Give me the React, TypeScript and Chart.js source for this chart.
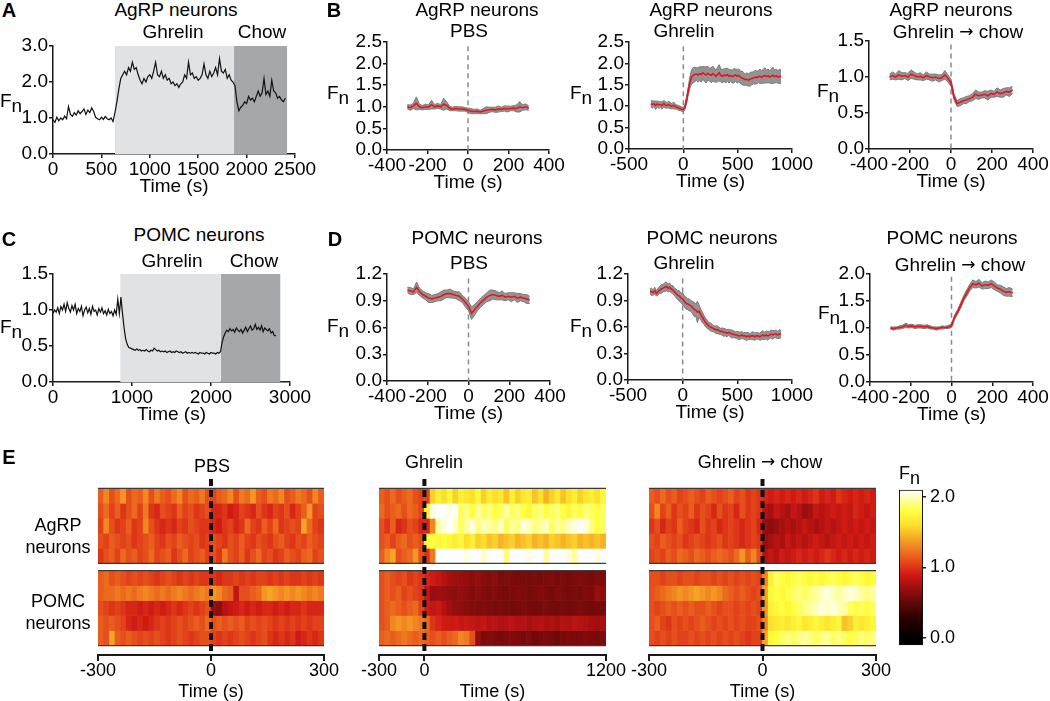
import React, { useEffect, useRef } from "react";
import { Chart, registerables } from "chart.js";
Chart.register(...registerables);

const FONT = "'Liberation Sans', Arial, Helvetica, sans-serif";
Chart.defaults.font.family = FONT;
Chart.defaults.font.size = 19;
Chart.defaults.color = "#000";

// ---------------- DATA ----------------
// Panel A: AgRP neurons, single trace, t = 0..2400 s every 20 s
const A_START = 0;
const A_STEP = 20;
const A_TRACE = [
  0.95, 0.88, 1.02, 0.92, 1.0, 0.95, 1.05, 0.98, 1.32, 1.1,
  1.05, 1.15, 1.08, 1.2, 1.12, 1.18, 1.25, 1.1, 1.22, 1.15,
  1.28, 1.18, 1.02, 0.98, 0.95, 1.02, 0.96, 1.04, 0.98, 0.95,
  1.0, 0.9, 1.15, 1.45, 1.8, 2.1, 2.2, 2.3, 2.2, 2.4,
  2.3, 2.55, 2.35, 2.4, 2.2, 2.05, 1.95, 2.1, 2.0, 2.15,
  2.2, 2.1, 2.3, 2.55, 2.2, 2.15, 2.3, 2.1, 2.2, 2.05,
  2.1, 1.95, 2.0, 1.9, 1.95, 1.85, 1.95, 2.0, 2.2, 2.1,
  2.55, 2.2, 2.25, 2.1, 2.15, 2.05, 2.1, 2.2, 2.5, 2.2,
  2.1, 2.3, 2.15, 2.25, 2.4, 2.2, 2.65, 2.3, 2.25, 2.35,
  2.1, 2.2, 2.05, 2.0, 1.9, 1.45, 1.2, 1.3, 1.35, 1.45,
  1.4, 1.6, 1.5, 1.55, 1.45, 1.6, 1.75, 1.6, 1.7, 2.1,
  1.65, 1.75, 1.6, 2.05, 1.75, 1.7, 1.55, 1.6, 1.5, 1.45,
  1.55,
];
const A_GHRELIN_WINDOW = [640, 1870];
const A_CHOW_WINDOW = [1870, 2420];
const A_XTICKS = [0, 500, 1000, 1500, 2000, 2500];
const A_YTICKS = [0, 1, 2, 3];

// Panel C: POMC neurons, single trace, t = 0..2820 s every 20 s
const C_START = 0;
const C_STEP = 20;
const C_TRACE = [
  0.95, 1.0, 0.97, 1.03, 0.95, 1.05, 1.0, 1.08, 0.98, 1.1,
  1.02, 0.97, 1.06, 1.0, 1.08, 0.95, 1.02, 0.98, 1.05, 0.92,
  1.0, 1.04, 0.96, 1.02, 0.94, 1.05, 0.98, 1.0, 0.93, 1.02,
  0.97, 1.03, 0.95, 0.99, 0.93, 1.01, 0.95, 0.98, 0.92, 1.0,
  0.94, 1.15, 0.95, 1.18, 0.95, 0.75, 0.6, 0.52, 0.48, 0.47,
  0.46, 0.45, 0.44, 0.46, 0.44, 0.45, 0.43, 0.44, 0.43, 0.45,
  0.43, 0.42, 0.44, 0.43, 0.47, 0.45, 0.43, 0.44, 0.42, 0.43,
  0.42, 0.43, 0.41, 0.42, 0.43, 0.41, 0.42, 0.41, 0.43, 0.42,
  0.41, 0.42, 0.4, 0.41, 0.42, 0.4, 0.41, 0.4, 0.41, 0.4,
  0.41, 0.4, 0.39, 0.41, 0.4, 0.4, 0.39, 0.41, 0.4, 0.39,
  0.41, 0.4, 0.4, 0.39, 0.41, 0.4, 0.42, 0.55, 0.63, 0.68,
  0.72, 0.7, 0.74, 0.71, 0.73, 0.69, 0.75, 0.72, 0.7, 0.73,
  0.68, 0.72, 0.76, 0.7, 0.74, 0.78, 0.72, 0.74, 0.8, 0.73,
  0.76, 0.72, 0.78, 0.7, 0.75, 0.73, 0.71, 0.74, 0.68, 0.7,
  0.65, 0.64,
];
const C_GHRELIN_WINDOW = [850, 2125];
const C_CHOW_WINDOW = [2125, 2880];
const C_XTICKS = [0, 1000, 2000, 3000];
const C_YTICKS = [0, 0.5, 1, 1.5];

// Panels B / D: mean ± SEM, 15 s bins
const BD_STEP = 15;
const B1_MEAN = [
  1.0, 0.98, 1.02, 1.08, 1.0, 0.98, 1.0, 0.99, 1.05, 1.0,
  1.02, 1.0, 1.06, 1.03, 0.96, 0.95, 0.96, 0.95, 0.95, 0.94,
  0.92, 0.9, 0.89, 0.9, 0.88, 0.9, 0.92, 0.93, 0.94, 0.93,
  0.95, 0.94, 0.96, 0.95, 0.96, 0.97, 0.96, 1.0, 0.98, 1.0,
  0.97,
];
const B1_SEM = [
  0.05, 0.06, 0.06, 0.15, 0.06, 0.05, 0.06, 0.05, 0.1, 0.05,
  0.06, 0.05, 0.14, 0.08, 0.05, 0.04, 0.05, 0.05, 0.05, 0.04,
  0.05, 0.06, 0.05, 0.05, 0.04, 0.06, 0.08, 0.06, 0.05, 0.06,
  0.07, 0.05, 0.06, 0.07, 0.05, 0.06, 0.08, 0.12, 0.06, 0.07,
  0.05,
];
const B2_MEAN = [
  1.05, 1.04, 1.06, 1.02, 1.05, 1.03, 1.04, 1.02, 1.06, 1.03,
  1.02, 1.04, 1.01, 1.0, 1.02, 0.99, 0.98, 0.96, 0.95, 0.93,
  0.92, 0.98, 1.15, 1.35, 1.55, 1.68, 1.72, 1.74, 1.75, 1.73,
  1.76, 1.74, 1.78, 1.75, 1.73, 1.77, 1.74, 1.72, 1.76, 1.73,
  1.7, 1.74, 1.78, 1.72, 1.7, 1.73, 1.71, 1.74, 1.7, 1.72,
  1.69, 1.71, 1.73, 1.7, 1.72, 1.68, 1.66, 1.64, 1.62, 1.63,
  1.61, 1.63, 1.65, 1.66, 1.68, 1.67, 1.69, 1.7, 1.68, 1.7,
  1.72, 1.69, 1.71, 1.68, 1.7, 1.72, 1.69, 1.71, 1.68, 1.7,
  1.69,
];
const B2_SEM = [
  0.07, 0.09, 0.06, 0.1, 0.07, 0.08, 0.06, 0.09, 0.07, 0.08,
  0.06, 0.08, 0.07, 0.06, 0.08, 0.06, 0.05, 0.06, 0.05, 0.05,
  0.05, 0.06, 0.08, 0.1, 0.13, 0.16, 0.18, 0.17, 0.15, 0.17,
  0.16, 0.18, 0.15, 0.17, 0.19, 0.16, 0.15, 0.17, 0.18, 0.16,
  0.14, 0.17, 0.19, 0.15, 0.16, 0.14, 0.17, 0.15, 0.16, 0.14,
  0.15, 0.17, 0.14, 0.16, 0.15, 0.14, 0.16, 0.15, 0.13, 0.15,
  0.14, 0.16, 0.15, 0.14, 0.16, 0.15, 0.14, 0.17, 0.15, 0.16,
  0.18, 0.15, 0.16, 0.14, 0.17, 0.19, 0.15, 0.16, 0.14, 0.17,
  0.15,
];
const B3_MEAN = [
  1.0, 1.02, 1.0, 1.03, 1.01, 1.02, 1.0, 1.04, 1.02, 1.0,
  1.01, 0.99, 1.02, 1.0, 0.99, 1.0, 0.98, 0.99, 1.03, 0.98,
  0.92, 0.72, 0.63, 0.65, 0.67, 0.68, 0.7, 0.72, 0.76, 0.74,
  0.75, 0.76, 0.74, 0.77, 0.76, 0.79, 0.77, 0.78, 0.8, 0.79,
  0.82,
];
const B3_SEM = [
  0.04, 0.05, 0.04, 0.06, 0.05, 0.04, 0.05, 0.06, 0.05, 0.04,
  0.05, 0.04, 0.05, 0.04, 0.05, 0.04, 0.05, 0.04, 0.06, 0.05,
  0.05, 0.04, 0.04, 0.05, 0.04, 0.05, 0.04, 0.05, 0.06, 0.05,
  0.04, 0.05, 0.06, 0.05, 0.04, 0.06, 0.05, 0.06, 0.05, 0.06,
  0.05,
];
const D1_MEAN = [
  1.02, 1.01, 1.0, 1.05, 1.0, 0.97, 0.95, 0.93, 0.92, 0.93,
  0.94, 0.95, 0.97, 0.98, 0.98, 0.97, 0.96, 0.95, 0.92, 0.88,
  0.84, 0.76, 0.8, 0.84, 0.88, 0.91, 0.94, 0.96, 0.97, 0.96,
  0.95, 0.96, 0.94, 0.95, 0.94, 0.95, 0.93, 0.94, 0.93, 0.92,
  0.91,
];
const D1_SEM = [
  0.03, 0.04, 0.03, 0.06, 0.04, 0.04, 0.04, 0.05, 0.04, 0.04,
  0.04, 0.05, 0.05, 0.04, 0.05, 0.04, 0.04, 0.05, 0.04, 0.05,
  0.05, 0.07, 0.06, 0.05, 0.05, 0.05, 0.05, 0.06, 0.05, 0.05,
  0.04, 0.05, 0.04, 0.04, 0.05, 0.04, 0.05, 0.04, 0.04, 0.05,
  0.04,
];
const D2_MEAN = [
  1.0, 1.0, 0.99, 1.01, 0.98, 1.0, 1.02, 1.03, 1.04, 1.05,
  1.06, 1.04, 1.05, 1.03, 1.02, 1.0, 0.98, 0.96, 0.95, 0.93,
  0.92, 0.89, 0.87, 0.86, 0.85, 0.84, 0.82, 0.8, 0.79, 0.77,
  0.78, 0.74, 0.71, 0.68, 0.65, 0.63, 0.61, 0.6, 0.59, 0.58,
  0.57, 0.57, 0.56, 0.55, 0.55, 0.54, 0.54, 0.53, 0.54, 0.53,
  0.52, 0.52, 0.51, 0.51, 0.5, 0.5, 0.51, 0.5, 0.5, 0.49,
  0.5, 0.49, 0.5, 0.5, 0.49, 0.5, 0.5, 0.49, 0.5, 0.51,
  0.5, 0.51, 0.5, 0.51, 0.52, 0.51, 0.52, 0.52, 0.51, 0.52,
  0.52,
];
const D2_SEM = [
  0.03, 0.04, 0.03, 0.04, 0.03, 0.04, 0.04, 0.05, 0.04, 0.05,
  0.05, 0.04, 0.05, 0.04, 0.05, 0.04, 0.05, 0.05, 0.06, 0.05,
  0.07, 0.06, 0.07, 0.06, 0.07, 0.06, 0.07, 0.08, 0.07, 0.12,
  0.07, 0.06, 0.06, 0.05, 0.05, 0.045, 0.04, 0.045, 0.04, 0.035,
  0.04, 0.045, 0.04, 0.035, 0.04, 0.045, 0.04, 0.04, 0.035, 0.04,
  0.045, 0.04, 0.035, 0.04, 0.045, 0.04, 0.04, 0.035, 0.04, 0.045,
  0.04, 0.035, 0.04, 0.045, 0.04, 0.04, 0.035, 0.04, 0.045, 0.05,
  0.04, 0.045, 0.05, 0.04, 0.045, 0.05, 0.04, 0.045, 0.04, 0.05,
  0.04,
];
const D3_MEAN = [
  1.0, 0.99, 1.0, 1.01, 1.02, 1.05, 1.03, 1.04, 1.02, 1.03,
  1.03, 1.02, 1.03, 1.01, 1.0, 0.99, 1.0, 1.01, 1.01, 1.02,
  1.04, 1.2, 1.3, 1.42, 1.55, 1.65, 1.75, 1.82, 1.8, 1.83,
  1.78, 1.8, 1.79, 1.82, 1.78, 1.74, 1.72, 1.68, 1.66, 1.67,
  1.65,
];
const D3_SEM = [
  0.02, 0.03, 0.02, 0.03, 0.03, 0.04, 0.03, 0.03, 0.03, 0.03,
  0.03, 0.03, 0.03, 0.03, 0.02, 0.03, 0.02, 0.03, 0.02, 0.03,
  0.03, 0.04, 0.04, 0.05, 0.05, 0.06, 0.06, 0.07, 0.06, 0.07,
  0.06, 0.07, 0.06, 0.07, 0.07, 0.06, 0.07, 0.08, 0.07, 0.08,
  0.07,
];
const BD_START = -300;
const PM400_XTICKS = [-400, -200, 0, 200, 400];
const M500_XTICKS = [-500, 0, 500, 1000];
const B_YTICKS = [0, 0.5, 1, 1.5, 2, 2.5];
const B3_YTICKS = [0, 0.5, 1, 1.5];
const D_YTICKS = [0, 0.3, 0.6, 0.9, 1.2];
const D3_YTICKS = [0, 0.5, 1, 1.5, 2];

// Panel E heatmaps (Fn per time bin; 5 AgRP + 5 POMC mice)
const E1_AGRP = [
  [1.15,1.3,1.1,1.2,1.35,1.1,1.2,1.15,1.3,1.1,1.25,1.15,1.1,1.2,1.3,1.1,1.2,1.15,1.25,1.1,1.05,1.15,1.2,1.3,1.1,1.25,1.2,1.35,1.15,1.1,1.25,1.2,1.3,1.1,1.15,1.25,1.2,1.1,1.3,1.15],
  [1.1,1.2,1.05,1.15,1.0,1.1,1.2,1.05,1.25,1.0,0.95,1.1,1.05,1.0,1.15,1.05,1.1,1.0,1.05,1.1,0.95,0.95,1.0,0.9,0.95,1.05,1.0,0.95,1.1,1.0,0.95,1.05,1.0,1.1,0.95,1.05,1.15,1.35,1.05,1.1],
  [1.05,1.3,1.1,1.0,1.05,1.15,1.0,1.05,1.3,1.1,1.0,0.95,1.0,0.95,1.05,1.0,1.1,1.05,1.0,1.0,0.95,0.9,1.0,1.05,0.95,1.0,1.2,1.05,1.0,1.15,1.05,1.2,1.0,1.05,1.1,1.05,1.4,1.2,1.05,1.0],
  [1.1,1.05,1.15,1.1,1.05,1.1,1.0,1.05,1.1,1.15,1.05,1.0,1.1,1.05,1.15,1.1,1.05,1.1,1.0,1.05,1.1,1.05,1.0,1.1,1.05,1.15,1.05,1.0,1.1,1.05,1.0,1.1,1.15,1.05,1.0,1.1,1.05,1.15,1.1,1.05],
  [1.0,1.1,1.15,1.05,1.2,1.1,1.15,1.05,1.1,1.2,1.05,1.1,1.15,1.0,1.1,1.2,1.05,1.1,1.15,1.05,1.1,1.0,1.25,1.1,1.05,1.15,1.0,1.1,1.2,1.05,1.1,1.0,1.05,1.15,1.1,1.05,1.15,1.2,1.05,1.1],
];
const E1_POMC = [
  [1.15,1.2,1.1,1.15,1.1,1.05,1.1,1.05,1.1,1.05,1.0,1.05,1.1,1.05,1.0,1.05,1.0,1.05,1.0,1.0,1.0,0.95,1.0,1.0,1.05,1.0,1.05,1.0,1.05,1.05,1.0,1.05,1.0,1.05,1.0,1.0,1.05,1.0,1.05,1.0],
  [1.15,1.2,1.2,1.25,1.2,1.25,1.2,1.25,1.3,1.25,1.2,1.25,1.2,1.25,1.3,1.25,1.2,1.25,1.3,1.25,1.35,1.3,1.2,1.15,0.85,1.1,1.1,1.15,1.2,1.35,1.4,1.35,1.3,1.35,1.3,1.35,1.3,1.25,1.3,1.25],
  [1.1,1.05,1.0,1.05,1.0,0.95,0.95,0.9,0.95,0.9,0.95,0.9,0.95,1.0,0.95,1.0,1.05,1.0,1.05,1.1,0.7,0.65,0.8,0.85,0.9,0.95,0.9,0.95,0.9,0.95,0.95,0.9,0.95,0.9,0.95,0.95,1.0,0.95,0.95,0.95],
  [1.15,1.1,1.15,1.1,1.05,0.95,0.9,0.95,0.9,0.95,1.0,1.05,1.0,1.05,1.1,1.05,1.1,1.15,1.1,1.2,1.1,1.15,1.1,1.15,1.1,1.15,1.05,1.1,1.05,1.1,1.05,1.0,1.05,1.0,1.05,1.0,1.05,1.0,1.05,1.05],
  [1.15,1.1,1.4,1.15,1.1,1.15,1.1,1.05,1.1,1.05,1.1,1.05,1.0,1.05,1.1,1.05,1.0,1.05,1.1,1.1,1.05,1.0,1.05,1.0,1.05,1.1,1.05,1.0,1.05,1.1,1.0,0.95,1.0,0.95,1.0,0.9,0.95,1.0,0.95,1.0],
];
const E2_AGRP = [
  [1.15,1.1,1.2,1.1,1.15,1.2,1.1,1.05,1.05,1.55,1.7,1.6,1.75,1.55,1.7,1.65,1.6,1.75,1.55,1.7,1.6,1.65,1.5,1.7,1.55,1.65,1.7,1.5,1.6,1.45,1.55,1.65,1.5,1.6,1.7,1.55,1.65,1.7,1.6,1.75],
  [1.2,1.1,1.15,1.2,1.1,1.2,1.15,1.05,1.7,2.05,2.1,2.1,2.05,2.1,1.85,1.9,1.8,1.95,1.85,1.9,1.8,1.85,1.95,1.85,1.9,1.8,1.75,1.85,1.9,1.8,1.85,1.9,1.8,1.75,1.85,1.8,1.9,1.85,1.8,1.85],
  [1.1,1.0,1.15,0.95,1.0,1.1,1.05,0.95,0.95,1.3,1.95,2.05,2.1,2.0,1.85,1.95,2.05,1.9,2.0,1.95,1.9,2.0,1.85,1.95,1.9,2.05,2.0,1.9,1.95,2.0,1.85,1.95,1.9,2.0,2.05,2.1,2.05,1.9,1.8,1.85],
  [1.1,1.15,1.05,1.15,1.2,1.1,1.15,1.1,1.75,1.8,1.75,1.8,1.75,1.7,1.75,1.6,1.7,1.55,1.6,1.5,1.55,1.45,1.5,1.55,1.45,1.5,1.55,1.45,1.5,1.45,1.55,1.5,1.45,1.5,1.55,1.45,1.5,1.45,1.5,1.45],
  [1.15,1.3,1.4,1.1,1.15,1.2,1.35,1.1,1.0,1.25,2.1,2.15,2.1,2.15,2.1,2.05,2.15,2.1,2.0,2.1,2.15,2.1,1.9,2.1,2.15,2.1,2.05,2.15,2.1,1.95,2.1,2.15,2.1,2.05,1.95,2.1,2.15,2.1,2.05,2.15],
];
const E2_POMC = [
  [1.1,1.15,1.1,1.05,1.1,1.0,1.05,1.0,0.95,0.9,0.85,0.8,0.75,0.72,0.7,0.68,0.65,0.68,0.65,0.62,0.65,0.6,0.62,0.6,0.58,0.6,0.58,0.6,0.58,0.6,0.62,0.58,0.6,0.58,0.6,0.62,0.6,0.58,0.62,0.6],
  [1.1,1.15,1.1,1.15,1.05,1.1,1.05,1.0,0.85,0.7,0.72,0.7,0.68,0.65,0.67,0.65,0.62,0.64,0.62,0.6,0.62,0.6,0.58,0.6,0.62,0.6,0.58,0.6,0.62,0.6,0.58,0.62,0.6,0.58,0.6,0.58,0.62,0.6,0.7,0.65],
  [1.1,1.15,1.2,1.15,1.1,1.15,1.2,1.05,0.9,0.85,0.88,0.8,0.72,0.68,0.66,0.64,0.62,0.6,0.62,0.6,0.58,0.6,0.58,0.57,0.58,0.6,0.58,0.57,0.58,0.6,0.58,0.57,0.58,0.57,0.58,0.6,0.58,0.57,0.58,0.57],
  [1.1,1.15,1.3,1.35,1.3,1.35,1.3,1.25,1.2,1.0,0.95,0.9,0.88,0.9,0.85,0.88,0.85,0.82,0.85,0.8,0.82,0.78,0.8,0.82,0.78,0.8,0.75,0.78,0.8,0.76,0.78,0.75,0.8,0.78,0.82,0.8,0.78,0.75,0.72,0.75],
  [1.15,1.2,1.15,1.2,1.25,1.2,1.15,1.2,1.15,1.1,1.15,1.1,1.15,1.2,1.3,1.25,1.1,0.68,0.6,0.62,0.6,0.58,0.6,0.62,0.6,0.58,0.6,0.55,0.58,0.6,0.58,0.55,0.58,0.6,0.58,0.6,0.62,0.6,0.58,0.6],
];
const E3_AGRP = [
  [1.15,1.1,1.2,1.1,1.15,1.05,1.1,1.15,1.1,1.05,1.15,1.1,1.05,1.1,1.15,1.05,1.1,1.0,1.05,1.0,0.95,0.9,0.95,0.9,0.95,0.9,0.95,0.9,0.95,1.0,0.9,0.95,0.9,1.0,0.95,0.9,0.95,0.9,0.95,0.9],
  [1.1,1.3,1.05,1.15,1.0,1.1,1.05,1.15,1.0,1.1,1.05,0.95,1.1,1.0,1.05,0.95,1.1,1.0,1.05,1.0,0.8,0.75,0.85,0.8,0.75,0.85,0.8,0.7,0.75,0.85,0.8,0.85,0.9,0.85,0.9,0.85,0.95,0.9,0.85,0.9],
  [1.0,1.1,0.95,1.05,1.0,1.15,1.05,1.0,0.95,1.1,1.0,1.05,0.95,1.0,1.05,1.0,0.95,1.0,1.05,0.95,0.7,0.65,0.7,0.75,0.8,0.75,0.8,0.85,0.8,0.75,0.8,0.85,0.8,0.85,0.9,0.85,0.9,0.85,0.9,0.85],
  [1.1,1.05,1.15,1.1,1.05,1.1,1.0,1.05,1.1,1.05,1.0,1.05,1.1,1.0,1.05,1.0,0.95,1.0,1.05,1.0,0.7,0.75,0.8,0.75,0.85,0.8,0.85,0.8,0.85,0.9,0.85,0.8,0.85,0.9,0.85,0.9,0.85,0.9,0.85,0.9],
  [1.05,1.1,1.05,1.15,1.1,1.2,1.15,1.1,1.2,1.15,1.1,1.15,1.2,1.15,1.1,1.2,1.35,1.15,1.3,1.1,0.8,0.85,0.8,0.9,0.85,0.9,0.95,0.9,0.95,0.9,0.95,1.0,0.95,0.9,0.95,0.9,0.95,0.9,0.95,0.9],
];
const E3_POMC = [
  [1.1,1.1,1.05,1.1,1.1,1.05,1.1,1.1,1.05,1.1,1.1,1.05,1.1,1.05,1.1,1.05,1.1,1.05,1.1,1.05,1.3,1.7,1.85,1.8,1.75,1.8,1.85,1.8,1.75,1.8,1.75,1.8,1.85,1.8,1.75,1.8,1.85,1.8,1.75,1.8],
  [1.1,1.15,1.2,1.25,1.3,1.35,1.3,1.35,1.4,1.35,1.3,1.35,1.3,1.2,1.15,1.1,1.15,1.1,1.05,1.1,1.4,1.75,1.8,1.75,1.8,1.85,1.9,1.85,1.9,1.95,2.0,2.05,2.0,1.95,2.0,2.05,2.0,1.95,1.9,1.95],
  [1.1,1.05,1.1,1.15,1.1,1.15,1.1,1.15,1.1,1.1,1.15,1.1,1.05,1.1,1.1,1.05,1.1,1.05,1.1,1.05,1.35,1.7,1.75,1.8,1.75,1.8,1.85,1.9,1.95,2.0,2.05,2.0,2.05,2.0,1.95,1.85,1.8,1.85,1.8,1.85],
  [1.1,1.15,1.05,1.0,1.1,1.05,1.1,1.05,1.1,1.15,1.1,1.05,1.1,1.05,1.1,1.05,1.1,1.05,1.05,1.1,1.3,1.6,1.65,1.7,1.65,1.7,1.75,1.65,1.7,1.75,1.7,1.65,1.7,1.75,1.5,1.55,1.7,1.65,1.7,1.75],
  [1.1,1.05,1.1,1.05,1.1,1.05,1.05,1.1,1.05,1.1,1.05,1.1,1.05,1.1,1.05,1.1,1.05,1.0,1.05,1.05,1.4,1.75,1.8,1.85,1.9,1.85,1.9,1.95,1.9,1.85,1.9,1.95,1.85,1.9,1.85,1.8,1.85,1.9,1.85,1.9],
];
const E_SHORT_RANGE = [-300, 300];
const E_LONG_RANGE = [-300, 1200];
const E1_XTICKS = [-300, 0, 300];
const E2_XTICKS = [-300, 0, 1200];
const CB_RANGE = [-0.1, 2.1];
const CB_TICKS = [0, 1, 2];

// ---------------- STYLE ----------------
const HEAT_STOPS: [number, string][] = [
  [0.0, "#000000"],
  [0.3, "#300000"],
  [0.55, "#6e0a0a"],
  [0.75, "#a81010"],
  [0.9, "#d01a14"],
  [1.05, "#e2421a"],
  [1.2, "#ec6a1e"],
  [1.4, "#f5a424"],
  [1.6, "#fbe02c"],
  [1.8, "#ffff40"],
  [2.1, "#ffffff"],
];
const hexRgb = (c: string) => [1, 3, 5].map((i) => parseInt(c.slice(i, i + 2), 16));
function heatColor(v: number) {
  const s = HEAT_STOPS;
  if (v <= s[0][0]) return s[0][1];
  for (let i = 1; i < s.length; i++) {
    if (v <= s[i][0]) {
      const t = (v - s[i - 1][0]) / (s[i][0] - s[i - 1][0]);
      const a = hexRgb(s[i - 1][1]);
      const b = hexRgb(s[i][1]);
      const m = a.map((x, k) => Math.round(x + (b[k] - x) * t));
      return `rgb(${m[0]},${m[1]},${m[2]})`;
    }
  }
  return s[s.length - 1][1];
}

const AX = "#1a1a1a";
const SHADE_LIGHT = "#e1e2e4";
const SHADE_DARK = "#a6a7aa";
const TICK_FONT = 19;
const HEAT_FONT = 18;

// heatmap vertical layout (row units)
const AGRP_TOP = 10.48;
const POMC_TOP = 5;
const ROWS = 5;
const E_YMIN = -0.63;
const E_YMAX = 11.1;
const E_DASH_BOTTOM = -0.37;

const pts = (vals: number[], start: number, step: number) =>
  vals.map((v, i) => ({ x: start + i * step, y: v }));

function yAxis(min: number, max: number, ticks: number[], width: number) {
  return {
    type: "linear",
    position: "left",
    min,
    max,
    afterBuildTicks: (s: any) => {
      s.ticks = ticks.map((v) => ({ value: v }));
    },
    afterFit: (s: any) => {
      s.width = width;
    },
    ticks: { padding: 1, color: "#000", font: { size: TICK_FONT }, callback: (v: any) => Number(v).toFixed(1), autoSkip: false },
    grid: { drawOnChartArea: false, drawTicks: true, tickLength: 4, color: AX, lineWidth: 1.5 },
    border: { display: true, color: AX, width: 1.5 },
  };
}
function xAxis(min: number, max: number, ticks: number[], height: number, heat = false) {
  const fs = heat ? HEAT_FONT : TICK_FONT;
  return {
    type: "linear",
    position: "bottom",
    min,
    max,
    offset: false,
    afterBuildTicks: (s: any) => {
      s.ticks = ticks.map((v) => ({ value: v }));
    },
    afterFit: (s: any) => {
      s.height = height;
    },
    ticks: { padding: heat ? -1 : 0, color: "#000", font: { size: fs }, maxRotation: 0, autoSkip: false, callback: (v: any) => String(v) },
    grid: {
      offset: false,
      drawOnChartArea: false,
      drawTicks: true,
      tickLength: heat ? 6 : 4,
      color: AX,
      lineWidth: heat ? 2 : 1.5,
    },
    border: { display: true, color: AX, width: heat ? 2 : 1.5 },
    title: { display: true, text: "Time (s)", padding: 0, color: "#000", font: { size: fs } },
  };
}

function traceCfg(
  vals: number[], start: number, step: number,
  ghrelin: number[], chow: number[],
  xr: number[], xticks: number[], ymax: number, yticks: number[]
) {
  const shade = (w: number[], color: string, order: number) => ({
    data: [{ x: w[0], y: ymax * 1.05 }, { x: w[1], y: ymax * 1.05 }],
    borderWidth: 0,
    borderColor: "rgba(0,0,0,0)",
    backgroundColor: color,
    fill: "origin",
    pointRadius: 0,
    order,
  });
  return {
    type: "line",
    data: {
      datasets: [
        { data: pts(vals, start, step), borderColor: "#111", borderWidth: 1.2, pointRadius: 0, fill: false, order: 0 },
        shade(ghrelin, SHADE_LIGHT, 1),
        shade(chow, SHADE_DARK, 2),
      ],
    },
    options: { scales: { x: xAxis(xr[0], xr[1], xticks, 44), y: yAxis(0, ymax, yticks, 40) } },
  };
}

function bandCfg(
  mean: number[], sem: number[], xr: number[], xticks: number[],
  ymax: number, yticks: number[], dashTop: number
) {
  const upper = mean.map((m, i) => m + sem[i]);
  const lower = mean.map((m, i) => m - sem[i]);
  return {
    type: "line",
    data: {
      datasets: [
        { data: pts(mean, BD_START, BD_STEP), borderColor: "#e8141c", borderWidth: 1.6, pointRadius: 0, fill: false, order: 0 },
        { data: pts(upper, BD_START, BD_STEP), borderColor: "#7a7a7a", borderWidth: 1, pointRadius: 0, fill: false, order: 1 },
        { data: pts(lower, BD_START, BD_STEP), borderColor: "#7a7a7a", borderWidth: 1, pointRadius: 0, fill: "-1", backgroundColor: "#939393", order: 2 },
        { data: [{ x: 0, y: dashTop }, { x: 0, y: 0 }], borderColor: "#8a8a8a", borderWidth: 1.5, borderDash: [5, 4], pointRadius: 0, fill: false, order: 3 },
      ],
    },
    options: { scales: { x: xAxis(xr[0], xr[1], xticks, 44), y: yAxis(0, ymax, yticks, 40) } },
  };
}

function heatCfg(agrp: number[][], pomc: number[][], xr: number[], xticks: number[]) {
  const labels = agrp[0].map((_, i) => String(i));
  const rowSet = (row: number[], y0: number, y1: number) => ({
    type: "bar",
    xAxisID: "xc",
    yAxisID: "y",
    data: row.map(() => [y0, y1]),
    backgroundColor: row.map(heatColor),
    borderWidth: 0,
    barPercentage: 1,
    categoryPercentage: 1,
    grouped: false,
    order: 10,
  });
  const rows: any[] = [];
  agrp.forEach((row, r) => rows.push(rowSet(row, AGRP_TOP - r - 1, AGRP_TOP - r)));
  pomc.forEach((row, r) => rows.push(rowSet(row, POMC_TOP - r - 1, POMC_TOP - r)));
  const edges = [AGRP_TOP, AGRP_TOP - ROWS, POMC_TOP, POMC_TOP - ROWS].map((y) => ({
    type: "line",
    xAxisID: "xt",
    yAxisID: "y",
    data: [{ x: xr[0], y }, { x: xr[1], y }],
    borderColor: "#3a3a3a",
    borderWidth: 1.3,
    pointRadius: 0,
    order: 2,
  }));
  const dash = {
    type: "line",
    xAxisID: "xt",
    yAxisID: "y",
    data: [{ x: 0, y: E_YMAX }, { x: 0, y: E_DASH_BOTTOM }],
    borderColor: "#111",
    borderWidth: 4,
    borderDash: [7, 4],
    pointRadius: 0,
    order: 0,
  };
  return {
    type: "bar",
    data: { labels, datasets: [dash, ...edges, ...rows] },
    options: {
      scales: {
        xc: { type: "category", display: false, offset: true, grid: { offset: true } },
        xt: xAxis(xr[0], xr[1], xticks, 48, true),
        y: { type: "linear", display: false, min: E_YMIN, max: E_YMAX },
      },
    },
  };
}

function colorbarCfg() {
  return {
    type: "bar",
    data: {
      labels: ["Fn"],
      datasets: [
        {
          data: [[CB_RANGE[0], CB_RANGE[1]]],
          backgroundColor: (c: any) => {
            const ch = c.chart;
            const ys = ch.scales && ch.scales.y;
            if (!ys || !ch.chartArea) return "#000";
            const p0 = ys.getPixelForValue(CB_RANGE[0]);
            const p1 = ys.getPixelForValue(CB_RANGE[1]);
            const g = ch.ctx.createLinearGradient(0, p0, 0, p1);
            HEAT_STOPS.forEach(([v, col]) =>
              g.addColorStop((v - CB_RANGE[0]) / (CB_RANGE[1] - CB_RANGE[0]), col)
            );
            return g;
          },
          borderColor: "#111",
          borderWidth: 1.3,
          borderSkipped: false,
          barPercentage: 1,
          categoryPercentage: 1,
        },
      ],
    },
    options: {
      scales: {
        x: { type: "category", display: false },
        y: {
          type: "linear",
          position: "right",
          min: CB_RANGE[0],
          max: CB_RANGE[1],
          afterBuildTicks: (s: any) => {
            s.ticks = CB_TICKS.map((v) => ({ value: v }));
          },
          afterFit: (s: any) => {
            s.width = 40;
          },
          ticks: { padding: 4, color: "#000", font: { size: HEAT_FONT }, callback: (v: any) => Number(v).toFixed(1) },
          grid: { drawOnChartArea: false, drawTicks: true, tickLength: 3, color: AX, lineWidth: 1.5 },
          border: { display: false },
        },
      },
    },
  };
}

// ---------------- COMPONENTS ----------------
type Area = { l: number; t: number; r: number; b: number };
const PAD = { left: 28, top: 14, right: 30, bottom: 14 };

function ChartBox({ area, axL = 0, axR = 0, axB = 0, make }: { area: Area; axL?: number; axR?: number; axB?: number; make: () => any }) {
  const ref = useRef<HTMLCanvasElement>(null);
  const left = area.l - axL - PAD.left;
  const top = area.t - PAD.top;
  const w = area.r - area.l + axL + axR + PAD.left + PAD.right;
  const h = area.b - area.t + axB + PAD.top + PAD.bottom;
  useEffect(() => {
    const cfg = make();
    cfg.options = {
      ...cfg.options,
      responsive: false,
      maintainAspectRatio: false,
      animation: false,
      devicePixelRatio: 1,
      events: [],
      layout: { padding: PAD },
      plugins: { legend: { display: false }, tooltip: { enabled: false }, title: { display: false } },
    };
    const chart = new Chart(ref.current as HTMLCanvasElement, cfg);
    return () => chart.destroy();
  }, []);
  return (
    <canvas
      ref={ref}
      width={w}
      height={h}
      style={{ position: "absolute", left, top, width: w, height: h }}
    />
  );
}

const T = ({ x, y, children, bold = false, size = 19 }: any) => (
  <div
    style={{
      position: "absolute",
      left: x,
      top: y,
      transform: "translate(-50%, -50%)",
      font: `${bold ? "bold " : ""}${size}px ${FONT}`,
      lineHeight: "22px",
      whiteSpace: "nowrap",
      textAlign: "center",
      color: "#000",
    }}
  >
    {children}
  </div>
);

const Arrow = () => (
  <span style={{ fontFamily: "'DejaVu Sans', sans-serif", fontSize: 17, position: "relative", top: -1 }}>→</span>
);

const Fn = ({ x, y, size = 19 }: { x: number; y: number; size?: number }) => (
  <div
    style={{
      position: "absolute",
      left: x,
      top: y,
      transform: "translateY(-50%)",
      font: `${size}px ${FONT}`,
      lineHeight: 1,
      whiteSpace: "nowrap",
      color: "#000",
    }}
  >
    F<span style={{ position: "relative", top: 5 }}>n</span>
  </div>
);

export default function App() {
  return (
    <div
      style={{
        position: "fixed",
        left: 0,
        top: 0,
        width: 1050,
        height: 701,
        background: "#fff",
        overflow: "hidden",
        fontFamily: FONT,
      }}
    >
      {/* Row 1 */}
      <ChartBox area={{ l: 53, t: 46, r: 295, b: 154 }} axL={40} axB={44}
        make={() => traceCfg(A_TRACE, A_START, A_STEP, A_GHRELIN_WINDOW, A_CHOW_WINDOW, [0, 2500], A_XTICKS, 3, A_YTICKS)} />
      <ChartBox area={{ l: 387, t: 42, r: 549, b: 150 }} axL={40} axB={44}
        make={() => bandCfg(B1_MEAN, B1_SEM, [-400, 400], PM400_XTICKS, 2.5, B_YTICKS, 2.4)} />
      <ChartBox area={{ l: 629, t: 42, r: 792, b: 149 }} axL={40} axB={44}
        make={() => bandCfg(B2_MEAN, B2_SEM, [-500, 1000], M500_XTICKS, 2.5, B_YTICKS, 2.4)} />
      <ChartBox area={{ l: 869, t: 41, r: 1033, b: 149 }} axL={40} axB={44}
        make={() => bandCfg(B3_MEAN, B3_SEM, [-400, 400], PM400_XTICKS, 1.5, B3_YTICKS, 1.45)} />

      {/* Row 2 */}
      <ChartBox area={{ l: 53, t: 274, r: 290, b: 382 }} axL={40} axB={44}
        make={() => traceCfg(C_TRACE, C_START, C_STEP, C_GHRELIN_WINDOW, C_CHOW_WINDOW, [0, 3000], C_XTICKS, 1.5, C_YTICKS)} />
      <ChartBox area={{ l: 387, t: 274, r: 550, b: 381 }} axL={40} axB={44}
        make={() => bandCfg(D1_MEAN, D1_SEM, [-400, 400], PM400_XTICKS, 1.2, D_YTICKS, 1.15)} />
      <ChartBox area={{ l: 628, t: 274, r: 792, b: 380 }} axL={40} axB={44}
        make={() => bandCfg(D2_MEAN, D2_SEM, [-500, 1000], M500_XTICKS, 1.2, D_YTICKS, 1.15)} />
      <ChartBox area={{ l: 870, t: 274, r: 1033, b: 382 }} axL={40} axB={44}
        make={() => bandCfg(D3_MEAN, D3_SEM, [-400, 400], PM400_XTICKS, 2.0, D3_YTICKS, 1.95)} />

      {/* Row 3: heatmaps */}
      <ChartBox area={{ l: 98, t: 479, r: 324, b: 655 }} axB={48}
        make={() => heatCfg(E1_AGRP, E1_POMC, E_SHORT_RANGE, E1_XTICKS)} />
      <ChartBox area={{ l: 379, t: 479, r: 606, b: 655 }} axB={48}
        make={() => heatCfg(E2_AGRP, E2_POMC, E_LONG_RANGE, E2_XTICKS)} />
      <ChartBox area={{ l: 649, t: 479, r: 876, b: 655 }} axB={48}
        make={() => heatCfg(E3_AGRP, E3_POMC, E_SHORT_RANGE, E1_XTICKS)} />
      <ChartBox area={{ l: 899, t: 489, r: 923, b: 646 }} axR={40}
        make={() => colorbarCfg()} />

      {/* Text: row 1 */}
      <T x={9} y={10} bold size={20}>A</T>
      <T x={176} y={10}>AgRP neurons</T>
      <T x={173} y={32}>Ghrelin</T>
      <T x={262} y={32}>Chow</T>
      <Fn x={0} y={100} />
      <T x={334} y={10} bold size={20}>B</T>
      <T x={477} y={10}>AgRP neurons</T>
      <T x={469} y={31}>PBS</T>
      <Fn x={327} y={92} />
      <T x={711} y={10}>AgRP neurons</T>
      <T x={684} y={31}>Ghrelin</T>
      <Fn x={570} y={92} />
      <T x={951} y={10}>AgRP neurons</T>
      <T x={958} y={32}>Ghrelin <Arrow /> chow</T>
      <Fn x={817} y={90} />

      {/* Text: row 2 */}
      <T x={9} y={239} bold size={20}>C</T>
      <T x={199} y={235}>POMC neurons</T>
      <T x={172} y={261}>Ghrelin</T>
      <T x={254} y={261}>Chow</T>
      <Fn x={0} y={326} />
      <T x={335} y={239} bold size={20}>D</T>
      <T x={477} y={238}>POMC neurons</T>
      <T x={469} y={263}>PBS</T>
      <Fn x={327} y={325} />
      <T x={712} y={238}>POMC neurons</T>
      <T x={684} y={263}>Ghrelin</T>
      <Fn x={570} y={325} />
      <T x={952} y={238}>POMC neurons</T>
      <T x={960} y={265}>Ghrelin <Arrow /> chow</T>
      <Fn x={818} y={312} />

      {/* Text: row 3 */}
      <T x={9} y={457} bold size={20}>E</T>
      <T x={212} y={466} size={18}>PBS</T>
      <T x={434} y={462} size={18}>Ghrelin</T>
      <T x={760} y={462} size={18}>Ghrelin <Arrow /> chow</T>
      <T x={58} y={536} size={18}>AgRP<br />neurons</T>
      <T x={58} y={612} size={18}>POMC<br />neurons</T>
      <Fn x={899} y={473} size={18} />
    </div>
  );
}
